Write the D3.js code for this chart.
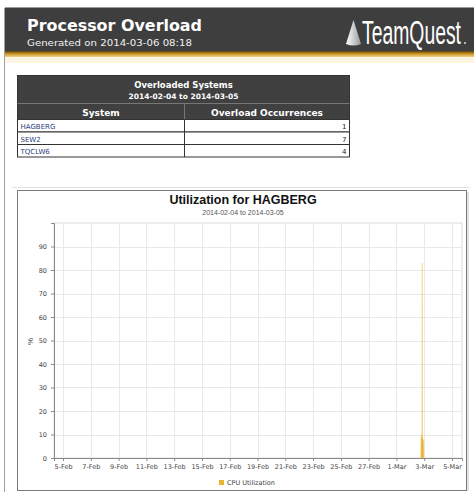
<!DOCTYPE html>
<html>
<head>
<meta charset="utf-8">
<script src="https://cdn.jsdelivr.net/npm/d3@7"></script>
<style>
  body { margin: 0; background: #fff; }
  svg { display: block; font-family: "Liberation Sans", Arial, sans-serif; }
</style>
</head>
<body>
<div id="report"></div>
<script>
// report data
const reportTitle = "Processor Overload";
const generatedOn = "Generated on 2014-03-06 08:18";
const tableTitle = "Overloaded Systems";
const periodLabel = "2014-02-04 to 2014-03-05";
const tableColumns = ["System", "Overload Occurrences"];
const systems = ["HAGBERG", "SEW2", "TQCLW6"];
const occurrences = [1, 7, 4];

// chart data (CPU utilization for HAGBERG)
const chartTitle = "Utilization for HAGBERG";
const seriesName = "CPU Utilization";
const cpuTimes = ["2014-03-02T18:00", "2014-03-02T18:30", "2014-03-02T19:30", "2014-03-02T20:00",
                  "2014-03-02T20:30", "2014-03-02T21:00", "2014-03-02T22:00", "2014-03-02T23:00",
                  "2014-03-02T23:30"];
const cpuValues = [0, 9, 10, 9, 83, 9, 8, 7, 0];
const xDomain = ["2014-02-04T08:25", "2014-03-05T17:15"];
const xTickDates = ["2014-02-05", "2014-02-07", "2014-02-09", "2014-02-11", "2014-02-13", "2014-02-15",
                    "2014-02-17", "2014-02-19", "2014-02-21", "2014-02-23", "2014-02-25", "2014-02-27",
                    "2014-03-01", "2014-03-03", "2014-03-05"];
const yTicks = [0, 10, 20, 30, 40, 50, 60, 70, 80, 90];

const parseT = d3.isoParse;
const data = cpuTimes.map((t, i) => ({ date: parseT(t), value: cpuValues[i] }));

const W = 474, H = 492;
const svg = d3.select("#report").append("svg")
    .attr("width", W)
    .attr("height", H);
const defs = svg.append("defs");

// page frame
svg.append("line").attr("x1", 4.5).attr("x2", 4.5).attr("y1", 8).attr("y2", H)
    .attr("stroke", "#a0a0a0");

// header band
svg.append("rect").attr("x", 5).attr("y", 7).attr("width", W - 5).attr("height", 1).attr("fill", "#9a9a9a");
svg.append("rect").attr("x", 5).attr("y", 8).attr("width", W - 5).attr("height", 43).attr("fill", "#3e3e3e");

const stripe = defs.append("linearGradient")
    .attr("id", "stripe").attr("x1", "0%").attr("x2", "0%").attr("y1", "0%").attr("y2", "100%");
stripe.append("stop").attr("offset", "0%").style("stop-color", "#5a4214");
stripe.append("stop").attr("offset", "45%").style("stop-color", "#c8901e");
stripe.append("stop").attr("offset", "100%").style("stop-color", "#f1d58a");
svg.append("rect").attr("x", 5).attr("y", 51).attr("width", W - 5).attr("height", 6).attr("fill", "url(#stripe)");
svg.append("rect").attr("x", 5).attr("y", 57).attr("width", W - 5).attr("height", 6).attr("fill", "#fbf5e2");

svg.append("text").attr("x", 27).attr("y", 31)
    .attr("fill", "#fff").attr("font-family", "DejaVu Sans, Verdana, sans-serif")
    .attr("font-weight", "bold").attr("font-size", 16)
    .attr("textLength", 175).attr("lengthAdjust", "spacingAndGlyphs")
    .text(reportTitle);
svg.append("text").attr("x", 27).attr("y", 46)
    .attr("fill", "#f2f2f2").attr("font-family", "DejaVu Sans, Verdana, sans-serif")
    .attr("font-size", 9.5)
    .attr("textLength", 165).attr("lengthAdjust", "spacingAndGlyphs")
    .text(generatedOn);

// logo: condensed by scaling the text horizontally to the logo width
const cone = defs.append("linearGradient")
    .attr("id", "cone").attr("x1", "0%").attr("x2", "100%");
cone.append("stop").attr("offset", "0%").style("stop-color", "#ffffff");
cone.append("stop").attr("offset", "100%").style("stop-color", "#9a9a9a");
svg.append("path")
    .attr("d", "M353.5,20 L346,44 Q353.5,47 361,44 Z")
    .attr("fill", "url(#cone)");
const logo = svg.append("text").attr("x", 0).attr("y", 0)
    .attr("fill", "#fff").attr("font-size", 33)
    .text("TeamQuest");
const logoW = logo.node().getComputedTextLength();
logo.attr("transform", `translate(362,44) scale(${99 / logoW},1)`);
svg.append("circle").attr("cx", 465).attr("cy", 43).attr("r", 1).attr("fill", "#ddd");

// overloaded systems table
const tX = 17.5, tW = 332, colX = 184.5;
const tTop = 75.5, headH = 28, colH = 16, rowH = 12.5;
svg.append("rect").attr("x", tX).attr("y", tTop).attr("width", tW).attr("height", headH + colH)
    .attr("fill", "#404040").attr("stroke", "#333");
svg.append("line").attr("x1", tX).attr("x2", tX + tW).attr("y1", tTop + headH).attr("y2", tTop + headH)
    .attr("stroke", "#777");
svg.append("line").attr("x1", colX).attr("x2", colX).attr("y1", tTop + headH).attr("y2", tTop + headH + colH)
    .attr("stroke", "#777");
svg.append("text").attr("x", tX + tW / 2).attr("y", tTop + 12).attr("text-anchor", "middle")
    .attr("fill", "#fff").attr("font-family", "DejaVu Sans, Verdana, sans-serif")
    .attr("font-weight", "bold").attr("font-size", 8.5).text(tableTitle);
svg.append("text").attr("x", tX + tW / 2).attr("y", tTop + 23).attr("text-anchor", "middle")
    .attr("fill", "#fff").attr("font-family", "DejaVu Sans, Verdana, sans-serif")
    .attr("font-weight", "bold").attr("font-size", 7.5).text(periodLabel);
svg.append("text").attr("x", (tX + colX) / 2).attr("y", tTop + headH + 12).attr("text-anchor", "middle")
    .attr("fill", "#fff").attr("font-family", "DejaVu Sans, Verdana, sans-serif")
    .attr("font-weight", "bold").attr("font-size", 9).text(tableColumns[0]);
svg.append("text").attr("x", (colX + tX + tW) / 2).attr("y", tTop + headH + 12).attr("text-anchor", "middle")
    .attr("fill", "#fff").attr("font-family", "DejaVu Sans, Verdana, sans-serif")
    .attr("font-weight", "bold").attr("font-size", 9).text(tableColumns[1]);

const rowY = d3.scaleBand().domain(systems).range([tTop + headH + colH, tTop + headH + colH + rowH * systems.length]);
const rows = svg.append("g").selectAll("g").data(systems).join("g")
    .attr("transform", d => `translate(0,${rowY(d)})`);
rows.append("rect").attr("x", tX).attr("width", tW).attr("height", rowY.bandwidth())
    .attr("fill", "#fff").attr("stroke", "#333");
rows.append("line").attr("x1", colX).attr("x2", colX).attr("y1", 0).attr("y2", rowY.bandwidth())
    .attr("stroke", "#333");
rows.append("text").attr("x", tX + 3).attr("y", 9.5)
    .attr("fill", "#2a3f7a").attr("font-family", "DejaVu Sans, Verdana, sans-serif")
    .attr("font-size", 7).text(d => d);
rows.append("text").attr("x", tX + tW - 3).attr("y", 9.5).attr("text-anchor", "end")
    .attr("fill", "#222").attr("font-family", "DejaVu Sans, Verdana, sans-serif")
    .attr("font-size", 7).text((d, i) => occurrences[i]);

// faint frame above the chart
svg.append("line").attr("x1", 12).attr("x2", 470).attr("y1", 187.5).attr("y2", 187.5)
    .attr("stroke", "#e2e2e2");

// chart box
svg.append("rect").attr("x", 17.5).attr("y", 190.5).attr("width", 449).attr("height", 300)
    .attr("fill", "#fff").attr("stroke", "#7a7a7a");
svg.append("line").attr("x1", 468).attr("x2", 468).attr("y1", 192).attr("y2", 491)
    .attr("stroke", "#c8c8c8");

svg.append("text").attr("x", 243).attr("y", 204).attr("text-anchor", "middle")
    .attr("font-weight", "bold").attr("font-size", 12.5).attr("fill", "#111")
    .text(chartTitle);
svg.append("text").attr("x", 243).attr("y", 215).attr("text-anchor", "middle")
    .attr("font-size", 7).attr("fill", "#555")
    .text(periodLabel);

// scales
const plot = { left: 54, right: 462, top: 223, bottom: 458 };
const x = d3.scaleTime().domain(xDomain.map(parseT)).range([plot.left, plot.right]);
const y = d3.scaleLinear().domain([0, 100]).range([plot.bottom, plot.top]);

// plot background + grid
svg.append("rect").attr("x", plot.left).attr("y", plot.top)
    .attr("width", plot.right - plot.left).attr("height", plot.bottom - plot.top)
    .attr("fill", "#fff").attr("stroke", "#dcdcdc");

const grid = svg.append("g").attr("stroke", "#e9e9e9").attr("stroke-width", 1);
grid.selectAll(".vg").data(xTickDates.map(parseT)).join("line")
    .attr("x1", d => Math.round(x(d)) + 0.5).attr("x2", d => Math.round(x(d)) + 0.5)
    .attr("y1", plot.top).attr("y2", plot.bottom);
grid.selectAll(".hg").data(yTicks.slice(1)).join("line")
    .attr("x1", plot.left).attr("x2", plot.right)
    .attr("y1", d => Math.round(y(d)) + 0.5).attr("y2", d => Math.round(y(d)) + 0.5);

// series
const area = d3.area()
    .x(d => x(d.date))
    .y0(y(0))
    .y1(d => y(d.value));
svg.append("path").datum(data)
    .attr("d", area)
    .attr("fill", "#e8b432")
    .attr("stroke", "#f0cf70")
    .attr("stroke-width", 0.5);

// axes
const xAxis = svg.append("g")
    .attr("transform", `translate(0,${plot.bottom})`)
    .call(d3.axisBottom(x).tickValues(xTickDates.map(parseT)).tickFormat(d3.timeFormat("%-d-%b"))
        .tickSize(3).tickPadding(3));
const yAxis = svg.append("g")
    .attr("transform", `translate(${plot.left},0)`)
    .call(d3.axisLeft(y).tickValues(yTicks).tickSize(3).tickPadding(4));
[xAxis, yAxis].forEach(a => {
    a.select(".domain").attr("stroke", "#8a8a8a");
    a.selectAll(".tick line").attr("stroke", "#8a8a8a");
    a.selectAll(".tick text").attr("fill", "#444").attr("font-size", 6.5)
        .attr("font-family", "DejaVu Sans, sans-serif");
});

svg.append("text")
    .attr("transform", `translate(33,${(plot.top + plot.bottom) / 2 + 1}) rotate(-90)`)
    .attr("text-anchor", "middle").attr("font-size", 8).attr("fill", "#444")
    .text("%");

// legend
svg.append("rect").attr("x", 219).attr("y", 480).attr("width", 5).attr("height", 5).attr("fill", "#e8b432");
svg.append("text").attr("x", 227).attr("y", 485)
    .attr("font-size", 6.5).attr("fill", "#444").attr("font-family", "DejaVu Sans, sans-serif")
    .text(seriesName);
</script>
</body>
</html>
